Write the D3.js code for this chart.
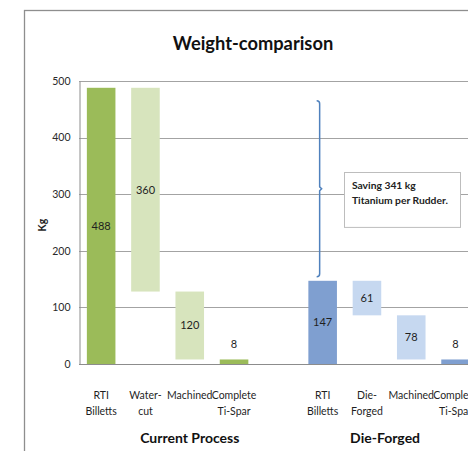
<!DOCTYPE html>
<html>
<head>
<meta charset="utf-8">
<script src="https://cdn.jsdelivr.net/npm/d3@7"></script>
<style>
  html, body { margin: 0; padding: 0; background: #fff; }
  svg { display: block; }
  text { font-family: Lato, "Open Sans", sans-serif; fill: #1f1f1f; }
</style>
</head>
<body>
<svg id="chart" width="468" height="451"></svg>
<script>
// Process groups and their steps (blank slot separates the two groups)
const groups = ["Current Process", "Die-Forged"];
const currentSteps = ["RTI\nBilletts", "Water-\ncut", "Machined", "Complete\nTi-Spar"];
const dieSteps = ["RTI\nBilletts", "Die-\nForged", "Machined", "Complete\nTi-Spar"];

// Visible segment of each waterfall bar (kg)
const currentValues = [488, 360, 120, 8];
const dieValues = [147, 61, 78, 8];

// Invisible base each floating segment sits on (kg)
const currentBase = [0, 128, 8, 0];
const dieBase = [0, 86, 8, 0];

// Bar role: totals are drawn dark, removed material light
const barKind = ["total", "step", "step", "total"];

const yTicks = [0, 100, 200, 300, 400, 500];

// Saving annotation
const savingText = ["Saving 341 kg", "Titanium  per Rudder."];
const braceRange = [465, 154];
const boxRange = [340, 243];

const palette = {
  "Current Process": { total: "#9bbb59", step: "#d7e4bd" },
  "Die-Forged": { total: "#7f9fd0", step: "#c6d8f0" }
};

// Flatten to slots
const rows = [];
currentSteps.forEach((s, i) => rows.push({ slot: "c" + i, group: groups[0], label: s, value: currentValues[i], base: currentBase[i], kind: barKind[i] }));
rows.push({ slot: "gap", group: null });
dieSteps.forEach((s, i) => rows.push({ slot: "d" + i, group: groups[1], label: s, value: dieValues[i], base: dieBase[i], kind: barKind[i] }));

const svg = d3.select("#chart");
const plotLeft = 79, plotTop = 81, plotBottom = 364, step = 44.3;

const x = d3.scaleBand()
  .domain(rows.map(r => r.slot))
  .range([plotLeft, plotLeft + step * rows.length])
  .paddingInner(0.355)
  .paddingOuter(0.1775);

const y = d3.scaleLinear().domain([0, 500]).range([plotBottom, plotTop]);

// Outer chart frame
svg.append("rect")
  .attr("x", 24.5).attr("y", 10.5)
  .attr("width", 500).attr("height", 500)
  .attr("fill", "none").attr("stroke", "#8e8e8e").attr("stroke-width", 1.3);

// Title
svg.append("text")
  .attr("x", 253).attr("y", 50)
  .attr("text-anchor", "middle")
  .style("font-size", "18.3px").style("font-weight", "bold").style("fill", "#111")
  .text("Weight-comparison");

// Gridlines
svg.append("g").selectAll("line")
  .data(yTicks.filter(t => t > 0))
  .join("line")
  .attr("x1", plotLeft).attr("x2", 500)
  .attr("y1", d => Math.round(y(d)) + 0.5).attr("y2", d => Math.round(y(d)) + 0.5)
  .attr("stroke", "#a3a3a3").attr("stroke-width", 1);

// Y axis
const yAxis = svg.append("g")
  .attr("transform", `translate(${plotLeft + 0.5},0)`)
  .call(d3.axisLeft(y).tickValues(yTicks).tickSize(0).tickPadding(9));
yAxis.select(".domain").attr("stroke", "#8c8c8c");
yAxis.selectAll("text").style("font-size", "10.5px").style("fill", "#2a2a2a").style("font-family", "Lato, sans-serif");

// Y axis title
svg.append("text")
  .attr("transform", "translate(46,225) rotate(-90)")
  .attr("text-anchor", "middle")
  .style("font-size", "10.5px").style("font-weight", "bold")
  .text("Kg");

// Bars
const bars = rows.filter(r => r.group);
svg.append("g").selectAll("rect")
  .data(bars)
  .join("rect")
  .attr("x", d => x(d.slot))
  .attr("width", x.bandwidth())
  .attr("y", d => y(d.base + d.value))
  .attr("height", d => y(d.base) - y(d.base + d.value))
  .attr("fill", d => palette[d.group][d.kind]);

// X baseline
svg.append("line")
  .attr("x1", plotLeft).attr("x2", 500)
  .attr("y1", plotBottom + 0.5).attr("y2", plotBottom + 0.5)
  .attr("stroke", "#8c8c8c").attr("stroke-width", 1);

// Value labels
svg.append("g").selectAll("text")
  .data(bars)
  .join("text")
  .attr("x", d => x(d.slot) + x.bandwidth() / 2)
  .attr("y", d => d.value < 20 ? y(d.base + d.value) - 15 : (y(d.base) + y(d.base + d.value)) / 2)
  .attr("dy", "0.35em")
  .attr("text-anchor", "middle")
  .style("font-size", "11px")
  .text(d => d.value);

// Category labels
const cat = svg.append("g").selectAll("text")
  .data(bars)
  .join("text")
  .attr("x", d => x(d.slot) + x.bandwidth() / 2)
  .attr("y", 399)
  .attr("text-anchor", "middle")
  .style("font-size", "10.5px");
cat.selectAll("tspan")
  .data(d => d.label.split("\n").map(t => ({ t, x: x(d.slot) + x.bandwidth() / 2 })))
  .join("tspan")
  .attr("x", d => d.x)
  .attr("dy", (d, i) => i ? 16 : 0)
  .text(d => d.t);

// Group labels
const mid = slots => d3.mean(slots, s => x(s) + x.bandwidth() / 2);
svg.append("g").selectAll("text")
  .data([
    { name: groups[0], cx: mid(["c0", "c1", "c2", "c3", "gap"]) },
    { name: groups[1], cx: mid(["d0", "d1", "d2", "d3"]) - 4 }
  ])
  .join("text")
  .attr("x", d => d.cx).attr("y", 443)
  .attr("text-anchor", "middle")
  .style("font-size", "14px").style("font-weight", "bold").style("fill", "#111")
  .text(d => d.name);

// Saving brace between the two RTI billet totals
const bx = x("d0") + x.bandwidth() / 2 - 3;
const yt = y(braceRange[0]), yb = y(braceRange[1]), ym = (yt + yb) / 2;
svg.append("path")
  .attr("d", `M${bx - 3},${yt} Q${bx},${yt} ${bx},${yt + 3} L${bx},${ym - 2} L${bx + 2},${ym} L${bx},${ym + 2} L${bx},${yb - 3} Q${bx},${yb} ${bx - 3},${yb}`)
  .attr("fill", "none").attr("stroke", "#4f81bd").attr("stroke-width", 1.5);

// Annotation box
const boxX = x("d0") + x.bandwidth() + 7;
svg.append("rect")
  .attr("x", Math.round(boxX) + 0.5).attr("y", Math.round(y(boxRange[0])) + 0.5)
  .attr("width", 116).attr("height", y(boxRange[1]) - y(boxRange[0]))
  .attr("fill", "#fff").attr("stroke", "#bdbdbd");
svg.append("g").selectAll("text")
  .data(savingText)
  .join("text")
  .attr("x", boxX + 8)
  .attr("y", (d, i) => y(boxRange[0]) + 17 + i * 15)
  .style("font-size", "10.3px").style("font-weight", "bold").style("fill", "#222")
  .text(d => d);
</script>
</body>
</html>
